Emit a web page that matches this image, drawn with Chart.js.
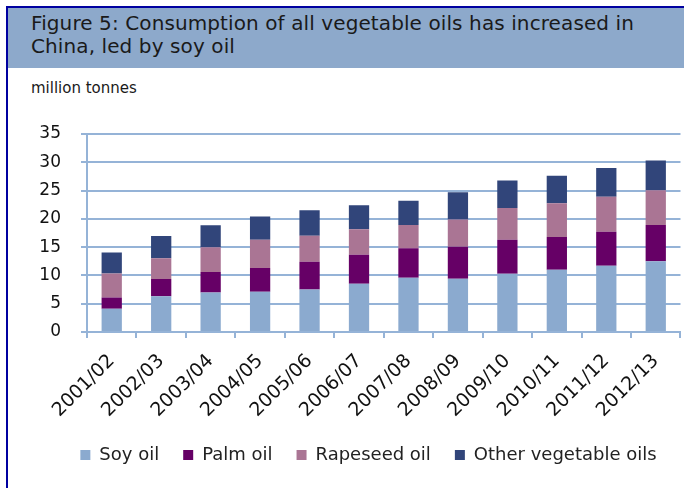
<!DOCTYPE html>
<html>
<head>
<meta charset="utf-8">
<script src="https://cdn.jsdelivr.net/npm/chart.js@4/dist/chart.umd.min.js"></script>
<style>
  html, body { margin: 0; padding: 0; background: #fff; }
  body { width: 684px; height: 488px; position: relative; overflow: hidden; font-family: "DejaVu Sans", sans-serif; }
  #frame { position: absolute; left: 6px; top: 6px; right: 0; bottom: 0; border-left: 2px solid #0000a0; border-top: 2px solid #0000a0; }
  #band { position: absolute; left: 8px; top: 8px; right: 0; height: 60px; background: #8da9cb; }
  #title { position: absolute; left: 31px; top: 12px; font-size: 20px; line-height: 23px; letter-spacing: 0.1px; color: #1a1a1a; white-space: nowrap; }
  #unit { position: absolute; left: 31px; top: 79px; font-size: 15px; color: #1a1a1a; }
  #wrap { position: absolute; left: 0; top: 100px; width: 684px; height: 388px; }
</style>
</head>
<body>
<div id="frame"></div>
<div id="band"></div>
<div id="title">Figure 5: Consumption of all vegetable oils has increased in<br>China, led by soy oil</div>
<div id="unit">million tonnes</div>
<div id="wrap"><canvas id="oilChart" width="684" height="388"></canvas></div>
<script>
  // values (million tonnes)
  const years = ["2001/02", "2002/03", "2003/04", "2004/05", "2005/06", "2006/07",
                 "2007/08", "2008/09", "2009/10", "2010/11", "2011/12", "2012/13"];
  const soyOil      = [4.1, 6.3, 7.0, 7.1, 7.5, 8.55, 9.6, 9.4, 10.3, 11.0, 11.7, 12.5];
  const palmOil     = [2.0, 3.05, 3.6, 4.2, 4.9, 5.1, 5.2, 5.65, 6.0, 5.8, 6.0, 6.4];
  const rapeseedOil = [4.25, 3.7, 4.4, 5.0, 4.6, 4.5, 4.1, 4.85, 5.6, 5.95, 6.2, 6.15];
  const otherOils   = [3.7, 3.9, 3.85, 4.1, 4.5, 4.25, 4.3, 4.8, 4.9, 4.85, 5.1, 5.25];
  const yTicks = [0, 5, 10, 15, 20, 25, 30, 35];

  const gridBlue = "#95b3d7";

  function series(label, data, color) {
    return {
      label: label,
      data: data,
      backgroundColor: color,
      borderWidth: 0,
      categoryPercentage: 1,
      barPercentage: 0.41,
    };
  }

  // legend sits a bit right of the canvas centre in the original
  const shiftLegend = {
    id: "shiftLegend",
    afterLayout(chart) {
      chart.legend.left += 28;
      chart.legend.right += 28;
    },
  };

  const ctx = document.getElementById("oilChart").getContext("2d");
  new Chart(ctx, {
    type: "bar",
    data: {
      labels: years,
      datasets: [
        series("Soy oil", soyOil, "#8baacf"),
        series("Palm oil", palmOil, "#660066"),
        series("Rapeseed oil", rapeseedOil, "#aa7594"),
        series("Other vegetable oils", otherOils, "#31457a"),
      ],
    },
    plugins: [shiftLegend],
    options: {
      responsive: false,
      animation: false,
      layout: { padding: { top: 34, left: 0, right: 3, bottom: 14 } },
      plugins: {
        tooltip: { enabled: false },
        legend: {
          position: "bottom",
          labels: {
            boxWidth: 10,
            boxHeight: 10,
            padding: 24,
            color: "#222",
            font: { family: "DejaVu Sans", size: 18 },
          },
        },
      },
      scales: {
        x: {
          stacked: true,
          afterFit: (scale) => { scale.height = 90; },
          grid: {
            offset: true,
            color: (c) => (c.index === years.length ? gridBlue : "rgba(0,0,0,0)"),
            tickColor: gridBlue,
            lineWidth: 2,
            tickLength: 6,
          },
          border: { display: true, color: gridBlue, width: 2 },
          ticks: {
            minRotation: 45,
            maxRotation: 45,
            padding: 12,
            color: "#111",
            font: { family: "DejaVu Sans", size: 19 },
          },
        },
        y: {
          stacked: true,
          min: 0,
          max: 35,
          afterFit: (scale) => { scale.width = 87; },
          afterBuildTicks: (scale) => { scale.ticks = yTicks.map((v) => ({ value: v })); },
          grid: { color: gridBlue, lineWidth: 2, tickLength: 6 },
          border: { display: true, color: gridBlue, width: 2 },
          ticks: {
            padding: 20,
            color: "#111",
            font: { family: "DejaVu Sans", size: 17 },
          },
        },
      },
    },
  });
</script>
</body>
</html>
